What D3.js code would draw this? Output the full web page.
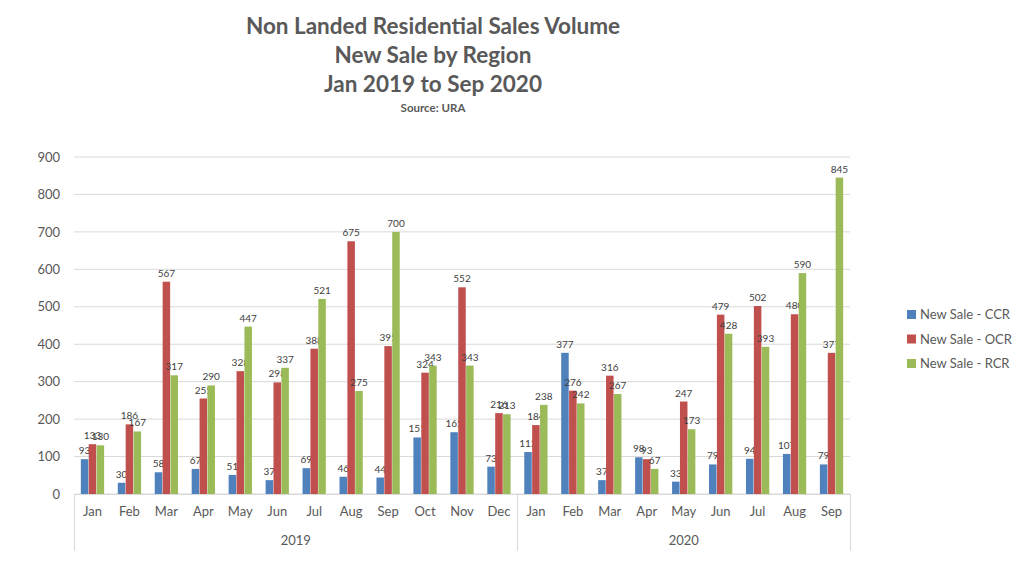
<!DOCTYPE html>
<html><head><meta charset="utf-8">
<script src="https://cdn.jsdelivr.net/npm/d3@7"></script>
<style>body{margin:0;background:#fff;}svg{display:block;font-family:Lato,"Open Sans",sans-serif;}</style>
</head><body><svg id="c" width="1024" height="562"></svg>
<script>
const months = ["Jan","Feb","Mar","Apr","May","Jun","Jul","Aug","Sep","Oct","Nov","Dec","Jan","Feb","Mar","Apr","May","Jun","Jul","Aug","Sep"];
const years = ["2019","2020"];
const yearCounts = [12, 9];
const seriesNames = ["New Sale - CCR","New Sale - OCR","New Sale - RCR"];
const ccr = [93,30,58,67,51,37,69,46,44,151,165,73,112,377,37,98,33,79,94,107,79];
const ocr = [133,186,567,255,328,298,388,675,395,324,552,216,184,276,316,93,247,479,502,480,377];
const rcr = [130,167,317,290,447,337,521,275,700,343,343,213,238,242,267,67,173,428,393,590,845];
const yTicks = [0,100,200,300,400,500,600,700,800,900];
const colors = ["#4F81BD","#C0504D","#9BBB59"];
const titleLines = ["Non Landed Residential Sales Volume","New Sale by Region","Jan 2019 to Sep 2020"];

const svg = d3.select("#c");
const L = 74, R = 850, T = 157, B = 494;
const idx = months.map((m,i)=>i);
const x = d3.scaleBand().domain(idx).range([L,R]).paddingInner(0.37).paddingOuter(0.185);
const x1 = d3.scaleBand().domain([0,1,2]).range([0,x.bandwidth()]).paddingInner(0.05);
const y = d3.scaleLinear().domain([0,900]).range([B,T]);
const all = [ccr,ocr,rcr];

// gridlines
svg.append("g").selectAll("line").data(yTicks).join("line")
  .attr("x1",L).attr("x2",R).attr("y1",d=>y(d)).attr("y2",d=>y(d))
  .attr("stroke","#d9d9d9").attr("stroke-width",1);

// y axis labels
const ya = svg.append("g").attr("transform",`translate(${L},0)`)
  .call(d3.axisLeft(y).tickValues(yTicks).tickSize(0).tickPadding(14));
ya.select(".domain").remove();
ya.selectAll("text").attr("font-size",13).attr("fill","#595959").attr("font-family","Lato,sans-serif");

// bars
all.forEach((vals,s)=>{
  const g = svg.append("g");
  g.selectAll("rect").data(vals).join("rect")
    .attr("x",(d,i)=>x(i)+x1(s)).attr("width",x1.bandwidth())
    .attr("y",d=>y(d)).attr("height",d=>B-y(d)).attr("fill",colors[s]);
  g.selectAll("text").data(vals).join("text")
    .attr("x",(d,i)=>x(i)+x1(s)+x1.bandwidth()/2).attr("y",d=>y(d)-5)
    .attr("text-anchor","middle").attr("font-size",10).attr("fill","#404040").text(d=>d);
});

// x axis
svg.append("line").attr("x1",L).attr("x2",R).attr("y1",B+0.5).attr("y2",B+0.5).attr("stroke","#d9d9d9");
const xa = svg.append("g").attr("transform",`translate(0,${B})`)
  .call(d3.axisBottom(x).tickSize(0).tickPadding(13).tickFormat(i=>months[i]));
xa.select(".domain").remove();
xa.selectAll("text").attr("font-size",13).attr("fill","#595959").attr("font-family","Lato,sans-serif");

// year separators and labels
let start = 0;
const bounds = [L];
yearCounts.forEach((n,k)=>{
  const x0 = k===0 ? L : x(start) - x.step()*x.paddingInner()/2;
  const end = start + n - 1;
  const xe = k===yearCounts.length-1 ? R : x(end) + x.bandwidth() + x.step()*x.paddingInner()/2;
  svg.append("text").attr("x",(x0+xe)/2).attr("y",545).attr("text-anchor","middle")
    .attr("font-size",13).attr("fill","#595959").text(years[k]);
  bounds.push(xe);
  start += n;
});
svg.append("g").selectAll("line").data(bounds).join("line")
  .attr("x1",d=>Math.round(d)+0.5).attr("x2",d=>Math.round(d)+0.5).attr("y1",B).attr("y2",551)
  .attr("stroke","#d9d9d9");

// title
const tg = svg.append("g").attr("text-anchor","middle").attr("fill","#595959").attr("font-weight","bold");
titleLines.forEach((t,i)=>{
  tg.append("text").attr("x",433).attr("y",34+i*29).attr("font-size",22.5).text(t);
});
tg.append("text").attr("x",433).attr("y",112).attr("font-size",11.5).text("Source: URA");

// legend
const lg = svg.append("g");
seriesNames.forEach((n,i)=>{
  lg.append("rect").attr("x",907).attr("y",310+i*24.5).attr("width",9).attr("height",9).attr("fill",colors[i]);
  lg.append("text").attr("x",920).attr("y",319+i*24.5).attr("font-size",13).attr("fill","#595959").text(n);
});
</script></body></html>
